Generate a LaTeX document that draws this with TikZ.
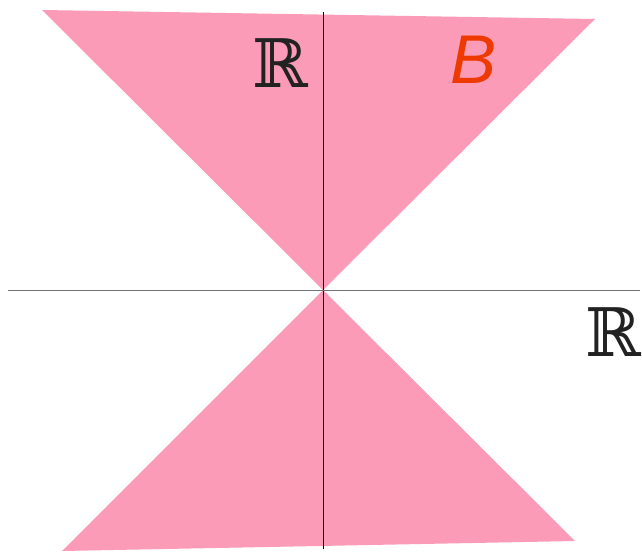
\documentclass[tikz,border=0pt]{standalone}
\usepackage{fontspec}
\newfontfamily\bfam{Liberation Sans}
\newfontfamily\rfam{DejaVu Serif}
\definecolor{conepink}{HTML}{FC9BB8}
\definecolor{borange}{HTML}{EE3A00}
\definecolor{rdark}{HTML}{222222}
\begin{document}
\begin{tikzpicture}[x=1pt,y=-1pt,
  cone/.style={fill=conepink,draw=none},
  axis/.style={line width=0.9pt},
  rlabel/.style={inner sep=0pt,anchor=base west,text=rdark,font=\rfam\fontsize{67}{67}\selectfont},
  blabel/.style={inner sep=0pt,anchor=base west,text=borange,font=\bfam\itshape\fontsize{69}{69}\selectfont}]
\useasboundingbox (0,0) rectangle (642,555);
\coordinate (o) at (323,290);
\coordinate (tl) at (42,10);
\coordinate (tr) at (595,19);
\coordinate (bl) at (62,551);
\coordinate (br) at (575,541);
\fill[cone] (tl) -- (tr) -- (o) -- cycle;
\fill[cone] (bl) -- (br) -- (o) -- cycle;
\coordinate (vt) at (323,12);
\coordinate (vb) at (323,549);
\coordinate (hl) at (8,290);
\coordinate (hr) at (640,290);
\draw[axis,black] (vt) -- (vb);
\draw[axis,black!55] (hl) -- (hr);
\node[rlabel] (r1) at (252,87) {ℝ};
\node[blabel] (b) at (450,83) {B};
\node[rlabel] (r2) at (585,356) {ℝ};
\end{tikzpicture}
\end{document}
